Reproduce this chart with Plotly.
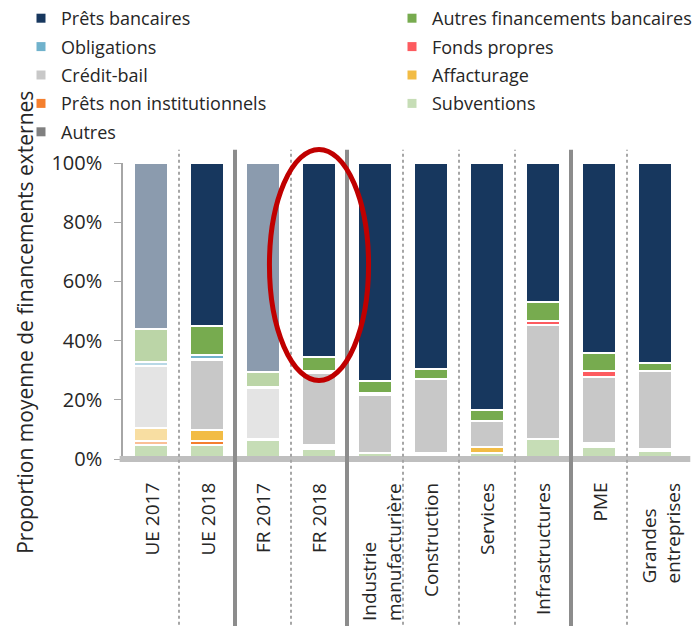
import plotly.graph_objects as go

categories = ["UE 2017", "UE 2018", "FR 2017", "FR 2018",
              "Industrie<br>manufacturière", "Construction", "Services",
              "Infrastructures", "PME", "Grandes<br>entreprises"]
faded = [True, False, True, False, False, False, False, False, False, False]

# values in % (stacked bottom -> top)
subventions   = [4.8, 4.8, 6.3, 3.4, 1.9, 1.2, 2.0, 6.9, 4.2, 2.6]
prets_non_inst = [1.35, 1.35, 0.2, 0.6, 0.0, 0.0, 0.0, 0.0, 0.6, 0.45]
affacturage   = [4.2, 3.55, 0.2, 0.6, 0.0, 0.7, 1.9, 0.0, 0.65, 0.45]
credit_bail   = [21.0, 23.8, 17.2, 24.4, 19.6, 25.1, 9.1, 38.4, 22.3, 26.4]
fonds_propres = [0.0, 0.3, 0.2, 0.4, 0.35, 0.0, 0.0, 1.35, 2.0, 0.0]
obligations   = [1.5, 1.5, 0.2, 0.5, 0.35, 0.0, 0.0, 0.0, 0.0, 0.0]
autres_fin_banc = [11.1, 9.8, 5.1, 4.7, 4.3, 3.4, 3.4, 6.3, 6.2, 2.6]
prets_bancaires = [56.05, 54.9, 70.6, 65.4, 73.5, 69.6, 83.6, 47.05, 64.05, 67.5]
autres = [None] * 10

y_tickvals = [0, 20, 40, 60, 80, 100]
y_ticktext = ["0%", "20%", "40%", "60%", "80%", "100%"]

# (name, values, colour, legend, legend rank)
series = [
    ("Subventions", subventions, "#c6ddb6", "legend2", 4),
    ("Prêts non institutionnels", prets_non_inst, "#f47f2e", "legend", 4),
    ("Affacturage", affacturage, "#f2bc45", "legend2", 3),
    ("Crédit-bail", credit_bail, "#c8c8c8", "legend", 3),
    ("Fonds propres", fonds_propres, "#fd5b5f", "legend2", 2),
    ("Obligations", obligations, "#70b2cc", "legend", 2),
    ("Autres financements bancaires", autres_fin_banc, "#77ab4f", "legend2", 1),
    ("Prêts bancaires", prets_bancaires, "#17375e", "legend", 1),
    ("Autres", autres, "#808080", "legend", 5),
]


def fade(hex_color, a=0.5):
    h = hex_color.lstrip("#")
    r, g, b = (int(h[i:i + 2], 16) for i in (0, 2, 4))
    r, g, b = (round(255 - (255 - c) * a) for c in (r, g, b))
    return "#%02x%02x%02x" % (r, g, b)


FONT = "Open Sans"
TXT = "#262626"

fig = go.Figure()
x_idx = list(range(len(categories)))
for name, vals, col, lg, rank in series:
    if name == "Subventions":
        colors = [col] * len(categories)
    else:
        colors = [fade(col) if f else col for f in faded]
    fig.add_trace(go.Bar(
        name=name, x=x_idx, y=vals, width=0.59,
        marker=dict(color=colors, line=dict(color="white", width=2)),
        showlegend=False, hoverinfo="skip",
    ))

# legend entries (full colours, small squares), split into two columns
for name, vals, col, lg, rank in series:
    fig.add_trace(go.Scatter(name=name, x=[None], y=[None], mode="markers",
                             marker=dict(color=col, symbol="square", size=9),
                             legend=lg, legendrank=rank, legendgroup=name, showlegend=True))

shapes = []
# baseline
shapes.append(dict(type="line", xref="paper", yref="paper", x0=-0.006, x1=1.013,
                   y0=0, y1=0, line=dict(color="#bfbfbf", width=6), layer="above"))
solid_after = {1, 3, 7}
for i in range(len(categories) - 1):
    if i in solid_after:
        ln = dict(color="#8c8c8c", width=4)
    else:
        ln = dict(color="#a6a6a6", width=2, dash="dot")
    shapes.append(dict(type="line", xref="x", yref="paper", x0=i + 0.5, x1=i + 0.5,
                       y0=-0.58, y1=1.045, line=ln, layer="above"))
fr18 = categories.index("FR 2018")
shapes.append(dict(type="circle", xref="x", yref="paper", x0=fr18 - 0.885, x1=fr18 + 0.885,
                   y0=0.265, y1=1.046, line=dict(color="#c00000", width=5), layer="above"))

annotations = []
for i, c in enumerate(categories):
    multi = "<br>" in c
    annotations.append(dict(x=i, y=0, xref="x", yref="paper", text=c, showarrow=False,
                            textangle=-90, xanchor="center", yanchor="top", yshift=-22,
                            xshift=6 if multi else 0,
                            align="left", font=dict(family=FONT, size=19, color=TXT)))
annotations.append(dict(x=-0.175, y=0.46, xref="paper", yref="paper",
                        text="Proportion moyenne de financements externes",
                        showarrow=False, textangle=-90, xanchor="center", yanchor="middle",
                        font=dict(family=FONT, size=21, color=TXT)))

legend_common = dict(orientation="v", xref="container", yref="container",
                     xanchor="left", yanchor="top", traceorder="grouped",
                     bgcolor="rgba(0,0,0,0)", tracegroupgap=2, itemclick=False,
                     itemsizing="trace",
                     font=dict(family=FONT, size=18, color=TXT))

fig.update_layout(
    width=693, height=626,
    margin=dict(l=123, r=10, t=163, b=167, autoexpand=False),
    barmode="stack",
    plot_bgcolor="white", paper_bgcolor="white",
    font=dict(family=FONT, size=18, color=TXT),
    showlegend=True,
    legend=dict(x=21 / 693, y=1.0, **legend_common),
    legend2=dict(x=392 / 693, y=1.0, **legend_common),
    xaxis=dict(range=[-0.5, len(categories) - 0.5], showticklabels=False, showgrid=False,
               zeroline=False, showline=False, ticks=""),
    yaxis=dict(range=[0, 100], tickvals=y_tickvals, ticktext=y_ticktext,
               showgrid=False, zeroline=False, showline=True, linecolor="#a6a6a6",
               linewidth=1.5, ticks="outside", ticklen=7, tickcolor="#a6a6a6",
               ticklabelstandoff=8,
               tickfont=dict(family=FONT, size=20, color=TXT)),
    shapes=shapes, annotations=annotations,
    bargap=0,
)

fig.write_html("out.html", post_script="document.body.style.margin='0px';",
               config={"displayModeBar": False})
